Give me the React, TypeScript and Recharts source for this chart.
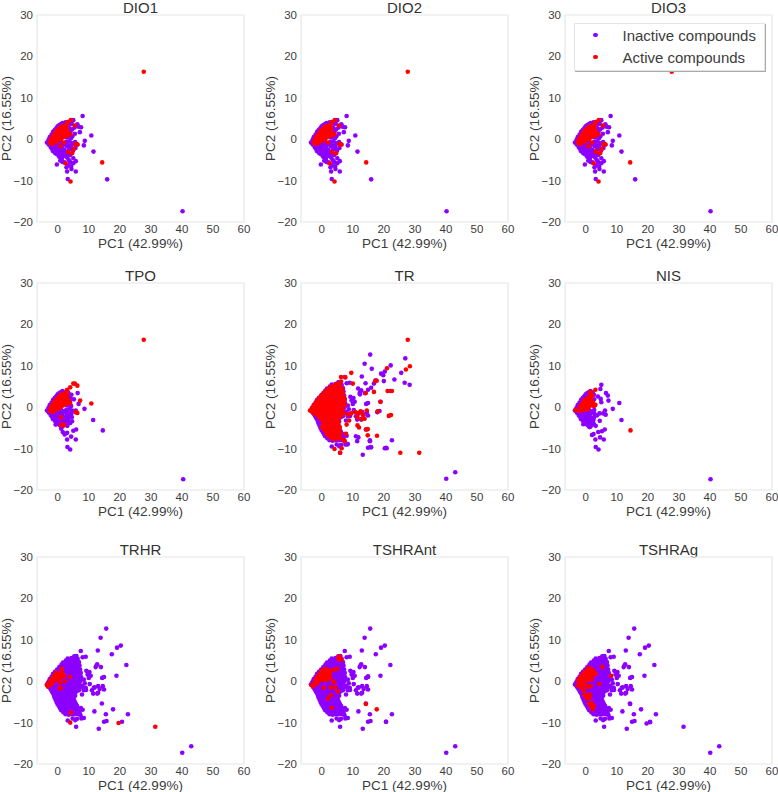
import { Legend, ReferenceArea, Scatter, ScatterChart, XAxis, YAxis } from "recharts";

type Pt = [number, number];

const xTicks = [0, 10, 20, 30, 40, 50, 60];
const yTicks = [-20, -10, 0, 10, 20, 30];
const xDomain: [number, number] = [-6.7, 60];
const yDomain: [number, number] = [-20, 30];

const PURPLE = "#8c00ff";
const RED = "#ff0000";
const INK = "#3c3c3c";

// compounds tested in the DIO / TPO / NIS assays, inner blob
const narrowCore: Pt[] = [
  [-3.5, -0.8], [-3, -0.2], [-2.9, -1.3], [-2.6, 0.5], [-2.4, -0.6], [-2.3, -1.9], [-2, 1.1], [-1.9, 0.1],
  [-1.8, -1.1], [-1.7, -2.5], [-1.5, 1.8], [-1.3, 0.7], [-1.2, -0.4], [-1.1, -1.8], [-1, -3], [-0.9, 2.3],
  [-0.7, 1.3], [-0.6, 0], [-0.5, -1], [-0.4, -2.4], [-0.3, -3.6], [-0.2, 2.8], [0, 1.7], [0.1, 0.5],
  [0.2, -1.4], [0.3, -2.9], [0.4, -4.2], [0.5, 3.4], [0.7, 2.2], [0.9, 1], [1, -0.6], [1.1, -2],
  [1.2, -3.4], [1.3, -4.8], [1.5, 3.9], [1.6, 2.7], [1.8, 1.4], [1.9, -1], [2, -2.5], [2.1, -3.9],
  [2.6, 3], [2.7, 1.9], [2.8, 0.4], [2.9, -1.7], [3, -3.1], [3.1, -4.5], [3.6, 2.8], [3.7, 1.2],
  [3.8, -0.5], [3.9, -2.2], [4, -3.8], [-0.8, -0.2], [0.6, -1], [1.5, -1.5], [2.4, -1.2], [-1.5, -1],
];

const narrowFill: Pt[] = [
  [-3, -0.9], [-2.5, -0.1], [-2.5, -1.4], [-2, 0.6], [-2, -0.5], [-2, -2.2], [-1.5, 1.2], [-1.5, -1.8], [-1.5, -2.9],
  [-1, -2.2], [-0.8, -3.4], [-0.7, -1.4], [0, -2.2], [0, -3.3], [0.2, -0.6], [0.7, -3.5], [0.8, -2.4], [0.9, -4.5],
  [1.5, -2.9], [1.6, -4.2], [2.4, -3.2], [2.6, -4.1], [2.7, -0.7], [3.4, -1.5], [3.4, -2.7], [3.5, 0.4], [3.6, -3.6],
  [3.3, 3.6], [4.2, 2], [4.3, 0.3], [4.4, -1.5], [4.5, -2.4], [2.2, 3.6], [1, 3.6], [0, 3.1], [-0.5, 2.6], [-1.2, 1.9],
];

const dioLower: Pt[] = [
  [-0.3, -6.1], [2.2, -5.6], [3.2, -6.2], [4.1, -5.6], [4.3, -6.6], [2.5, 4.1], [3.5, 4.2], [4.5, 3.7],
  [4.6, 2.4], [4.7, 0.7], [4.8, -1], [4.9, -2.8], [5, -5.8], [5.4, 2.8], [5.5, 1.3], [5.6, -0.7],
  [5.7, -2.1], [5.8, -5.3], [6, -1.2], [1.5, -5.5], [0.8, -5.2], [2.8, -6.8], [3.6, -5.1], [5, -4.6],
];

const dioOutliers: Pt[] = [
  [8, 5.6], [10.8, 0.9], [8.7, -0.4], [8.4, -1.5], [11.5, -3], [15.9, -9.7], [40.2, -17.4], [3.2, -9.6],
  [3, -7.8], [5.8, -7.8], [4.4, -7.2], [6.7, 3], [7.5, 2.9], [7.1, 1.7], [6.3, 3.6], [5, 4.6],
];

const tpoInactive: Pt[] = [
  [6.4, 3.4], [6.7, 0.8], [8.6, -0.4], [11.4, -3.1], [14.5, -5.6], [40.4, -17.4], [3.1, -9.6], [4, -10.2],
  [3, -7.8], [5.8, -7.8], [4.3, -7.1], [5.9, -5.4], [5, -5.7], [4.6, -3.4], [-0.7, -4.2], [2.2, -6.6],
  [1.6, -6], [3, -6.2], [1.1, -5.2], [5.8, -0.8], [4.6, -0.8], [3.4, -2.2], [2.6, -2.4], [3.8, -2.1],
  [1.4, -2.3], [4, 1.8], [5.2, 1.9], [4.4, 3], [3.6, 3.2], [3.1, 2.3],
];

const nisInactive: Pt[] = [
  [5, 5.4], [4.7, 4.4], [6.5, 3.4], [7.1, 2.8], [7.3, 1.6], [10.8, 1], [8.7, -0.4], [11.5, -3.1],
  [40.2, -17.4], [3.2, -9.6], [4.1, -10.2], [3.1, -7.8], [5.8, -7.8], [4.6, -7.3], [6.1, -5.4], [5.2, -5.8],
  [4, -6], [2.5, -6.5], [2, -6.7], [-0.8, -4.1], [4.8, 2], [5, 1.2], [3.9, 2.6], [4.4, -1.5], [4.5, -3.3],
  [6.2, -0.8], [6.4, -1.8], [5.6, -1.5], [3.6, -2], [2.6, -2.6], [3.2, -4.5], [1.2, -4.8], [1.8, -4.4],
];

// wider blob seen in the TR / TRHR / TSHR assays
const wideCore: Pt[] = [
  [5.3, 6], [6, 6.1], [2.6, 5], [3.8, 5.1], [5, 5], [6.2, 4.9], [6.8, 4.6], [1.2, 4], [2.2, 4], [3.2, 4.2], [4.2, 4],
  [5.2, 3.9], [6.3, 4.1], [7, 3.8], [0.3, 3], [1.4, 3.1], [2.4, 3], [3.4, 3], [4.4, 3.1], [5.4, 3], [6.5, 3], [7.2, 2.8],
  [-0.8, 2], [0.2, 2.1], [1.3, 2], [2.3, 1.9], [3.3, 2], [4.3, 2.1], [5.3, 2], [6.4, 1.9], [7.4, 2], [-1.7, 1], [-0.7, 1.1],
  [0.3, 1], [1.3, 0.9], [2.3, 1], [3.3, 1], [4.3, 1.1], [5.4, 1], [6.4, 0.9], [7.5, 1], [-2.7, 0], [-1.7, 0.1], [-0.6, 0],
  [0.4, -0.1], [1.4, 0], [2.5, 0], [3.5, 0.1], [4.5, 0], [5.5, -0.1], [6.6, 0], [7.4, 0.1], [-3, -1], [-2, -0.9], [-1, -1],
  [0, -1.1], [1, -1], [2, -1], [3, -0.9], [4, -1], [5, -1], [6, -1.1], [7, -1], [8, -1.2], [-2.2, -2], [-1.2, -2.1], [-0.2, -2],
  [0.8, -2], [1.8, -1.9], [2.8, -2], [3.8, -2.1], [4.8, -2], [5.8, -2], [6.8, -2.2], [-1.5, -3], [-0.5, -3.1], [0.5, -3], [1.5, -3],
  [2.5, -2.9], [3.5, -3], [4.5, -3.1], [5.5, -3], [-1, -4], [0, -4.1], [1, -4], [2, -4], [3, -3.9], [4, -4], [5, -4.1],
  [-0.4, -5], [0.6, -5], [1.6, -5.1], [2.6, -5], [3.6, -5], [4.6, -4.9], [5.6, -5.2], [0.3, -6], [1.3, -6.1], [2.3, -6], [3.3, -6],
  [4.3, -5.9], [5.3, -6.1], [6.2, -6], [1.1, -7], [2.1, -7.1], [3.1, -7], [4.1, -7], [5.1, -7.1], [6.1, -7], [7, -7.1], [8, -6.9],
  [2.5, -8], [3.5, -8.1], [4.5, -8], [5.5, -8], [6.5, -7.9], [7.3, -8.2], [3.2, -9.5], [4.8, -9], [6.2, -9.1], [7.6, -9], [8.4, -8.9],
];

const wideFill: Pt[] = [
  [3.2, 5.5], [4.4, 5.6], [5.6, 5.5], [6.4, 5.4], [1.7, 4.5], [2.7, 4.6], [3.7, 4.5], [4.7, 4.4], [5.7, 4.5], [6.6, 4.4],
  [0.8, 3.5], [1.9, 3.6], [2.9, 3.5], [3.9, 3.5], [4.9, 3.4], [5.9, 3.5], [6.8, 3.4], [-0.3, 2.5], [0.8, 2.6], [1.8, 2.5],
  [2.8, 2.4], [3.8, 2.5], [4.8, 2.6], [5.8, 2.5], [6.9, 2.4], [-1.2, 1.5], [-0.2, 1.6], [0.8, 1.5], [1.8, 1.4], [2.8, 1.5],
  [3.8, 1.5], [4.8, 1.6], [5.9, 1.5], [6.9, 1.4], [-2.2, 0.5], [-1.2, 0.6], [-0.2, 0.5], [0.8, 0.4], [1.8, 0.5], [2.8, 0.5],
  [3.8, 0.6], [4.8, 0.5], [5.9, 0.4], [7, 0.5], [-3.2, -0.5], [-2.2, -0.4], [-1.1, -0.5], [-0.1, -0.6], [0.9, -0.5], [1.9, -0.5],
  [2.9, -0.4], [3.9, -0.5], [4.9, -0.6], [6, -0.5], [7, -0.4], [-2.6, -1.5], [-1.6, -1.4], [-0.6, -1.5], [0.4, -1.6], [1.4, -1.5],
  [2.4, -1.5], [3.4, -1.4], [4.4, -1.5], [5.4, -1.6], [6.4, -1.5], [7.4, -1.5], [-1.9, -2.5], [-0.9, -2.6], [0.1, -2.5], [1.1, -2.4],
  [2.1, -2.5], [3.1, -2.5], [4.1, -2.6], [5.1, -2.5], [6.1, -2.4], [-1.2, -3.5], [-0.2, -3.6], [0.8, -3.5], [1.8, -3.4], [2.8, -3.5],
  [3.8, -3.5], [4.8, -3.6], [5.6, -3.5], [-0.7, -4.5], [0.3, -4.6], [1.3, -4.5], [2.3, -4.4], [3.3, -4.5], [4.3, -4.5], [5.3, -4.6],
  [-0.1, -5.5], [0.9, -5.6], [1.9, -5.5], [2.9, -5.4], [3.9, -5.5], [4.9, -5.5], [5.9, -5.6], [0.7, -6.5], [1.7, -6.6], [2.7, -6.5],
  [3.7, -6.4], [4.7, -6.5], [5.7, -6.5], [6.6, -6.6], [7.4, -6.5], [1.8, -7.5], [3, -7.6], [4, -7.5], [5, -7.4], [6, -7.5], [7, -7.6],
];

const wideOutliers: Pt[] = [
  [15.6, 12.7], [13.8, 10.5], [20.3, 8.6], [19.1, 8.1], [17.4, 6.5], [12.9, 7.4], [7.4, 7.3], [8, 5.8], [9, 5.9],
  [22.1, 3.9], [18.9, 1.3], [13.9, 3.4], [12.7, 4.1], [12.2, 3.4], [12.5, 3.8], [14.9, 1], [14.3, 0.8], [9.2, 2.5],
  [10.2, 2.2], [10.6, 1.3], [10, 0.8], [9.6, 1.6], [8.7, -0.5], [8.4, 0.4], [9, -1.6], [14.2, -5.4], [11.8, -7.3],
  [15.5, -8], [22.6, -8], [20.7, -9.8], [15.7, -9.6], [14.9, -9.8], [13.2, -11.5], [5.9, -11], [40.1, -17.3], [43, -15.7],
  [14.9, -2], [13.5, -1.9], [12.7, -3], [11.4, -3], [11, -2.2], [9.1, -2.1], [8.4, -2.2], [11.9, -1.5], [13, -2.8],
  [11.6, -1.6], [13, -1.2], [14.5, -1.2], [10.3, -0.7], [7.8, -3.2], [5.6, -9.4],
];

const trExtraInactive: Pt[] = [
  [22.2, 10.1], [26.9, 11.8], [25.6, 8.3], [28.3, 5.4], [26.7, 5.9], [23.4, 6.7], [19.8, 7.7], [20, 6.3], [16.1, 9.3],
  [16.8, 5.7], [15.9, 4.7], [14.9, 4.2], [14.1, 5.8], [11.7, 4.5], [12.3, 3.1], [17.9, -1.2], [18.6, -0.9], [15.5, -8.2],
  [11, -7], [11.4, -8.2], [15.9, -9.7], [20.3, -9.9], [20.9, -9.9], [8.2, -9],
];

const dioRedCore: Pt[] = [
  [-2.6, -0.9], [-2.3, -0.2], [-2, -1], [-1.8, 0.5], [-1.5, -0.4], [-1.4, -1.1], [-1.2, 1.1], [-1, 0.2], [-0.8, -0.6],
  [-0.6, 1.7], [-0.5, 0.8], [-0.3, -0.3], [-0.1, 2.2], [0, 1.3], [0.2, 0.3], [0.2, -0.4], [0.5, 2.6], [0.6, 1.6], [0.8, 0.7],
  [1, 0], [1, 3], [1.2, 2.1], [1.4, 1.2], [1.6, 0.4], [1.7, 3.2], [1.9, 2.4], [2.1, 1.5], [2.3, 0.7], [2.5, 3.3], [2.7, 2.2],
  [3, 1.1], [3.3, 0.9], [0, 0.6], [-1.8, -0.5], [0.9, 1.5],
];

const dioRedFill: Pt[] = [
  [-2, -0.2], [-1.5, 0.4], [-1, 0.8], [-1, -0.5], [-0.5, 1.3], [-0.5, 0.2], [0, 1.9], [0, 0.2], [0.5, 2.1], [0.5, 1], [0.6, 0.1],
  [1, 2.6], [1, 1.1], [1.4, 2.8], [1.5, 1.8], [1.9, 0.9], [2, 3], [2.3, 1.9], [2.7, 1.3], [2.2, 2.8], [3, 2.5], [3.5, 1.4], [2.9, 3.6],
];

const dio1Active: Pt[] = [
  [4.2, 4.6], [3.1, 4.1], [5.5, 3.3], [4.1, 1.2], [2, -0.8], [0.9, -1.7], [3.3, -3.1], [4.6, -3.4], [5.1, -2.4],
  [5.7, -1.2], [6.4, -1.3], [2.5, -5.8], [14.3, -5.6], [4.1, -10.2], [27.7, 16.3],
];

const dio2Active: Pt[] = [
  [4.2, 4.6], [3.1, 4.1], [5.5, 3.3], [4.1, 1.2], [2, -0.8], [3.3, -3.1], [4.6, -3.4], [5.7, -1.2], [6.4, -1.3],
  [14.3, -5.6], [4.1, -10.2], [2.5, -5.8], [27.7, 16.3],
];

const dio3Active: Pt[] = [
  [4.2, 4.6], [3.1, 4.1], [5.5, 3.3], [4.1, 1.2], [2, -0.8], [0.9, -1.7], [3.3, -3.1], [4.6, -3.4], [5.1, -2.4],
  [5.7, -1.2], [6.4, -1.3], [2.5, -5.8], [14.3, -5.6], [4.1, -10.2], [27.7, 16.3], [3.2, -2.9],
];

const tpoActive: Pt[] = [
  [5.5, 5.7], [5, 5.7], [6.3, 5.2], [4, 4.8], [3, 4.2], [7.2, 1.6], [10.8, 0.9], [5.8, -1.2], [6.3, -1.4], [1.5, -4.2],
  [1, -4.3], [2, -4.4], [1, -2.4], [27.7, 16.3], [4, 1], [3.6, 1.6], [3, 2.8],
];

const nisRedCore: Pt[] = [
  [-3.3, -0.6], [-2.2, -0.9], [-1.9, 0.2], [-1.4, -0.8], [-1.2, 0.9], [-0.9, -0.2], [-0.6, 1.6], [-0.4, 0.5], [-0.2, -0.6],
  [0.1, 1.3], [0.4, 2.2], [0.5, 0.2], [0.7, -0.5], [1, 1.1], [1.2, 2.6], [1.4, 3.5], [1.6, 3.7], [1.7, 1.9], [1.9, 0.5],
  [2.1, 2.8], [2.3, 1.2], [3.1, 4.2], [3.1, 0.6], [2.6, 0.3], [14.4, -5.6], [-1.6, 0.1], [-0.9, 0.7], [-0.2, 1], [0.5, 1.5],
  [1, 2], [1.6, 2.7], [1.2, 0.3], [2, 1.2], [-0.3, -0.1],
];

const trRedBlob: Pt[] = [
  [-3.8, -0.8], [-3.2, -0.2], [-3, -1.2], [-2.5, 0.6], [-2.3, -0.5], [-2, -1.7], [-1.7, 1.4], [-1.5, 0.2], [-1.3, -1], [-1, -2.4],
  [-0.9, 2.2], [-0.6, 1], [-0.4, -0.2], [-0.2, -1.5], [0, -3], [0, 3], [0.3, 1.8], [0.5, 0.5], [0.7, -0.9], [0.9, -2.2], [1, -4],
  [1, 3.8], [1.3, 2.6], [1.5, 1.3], [1.7, 0], [1.9, -1.4], [2, -3], [2, -5], [2, 4.4], [2.3, 3.3], [2.5, 2], [2.7, 0.7], [2.9, -0.7],
  [3, -2.2], [3, -3.9], [3, -5.8], [3, 5], [3.3, 3.9], [3.5, 2.7], [3.7, 1.3], [3.8, 0], [4, -1.4], [4, -3], [4, -4.8], [4, -6.6],
  [4.1, 5.1], [4.3, 4], [4.5, 2.8], [4.7, 1.5], [4.9, 0.2], [5, -1], [5, -2.4], [5, -3.9], [5, -5.6], [5, -7.4], [5.2, 5.6], [5.5, 4.2],
  [5.6, 3], [5.8, 1.8], [6, 0.5], [6, -0.8], [6, -2.2], [6, -6.2], [5.8, -4.8], [6.2, 6.2], [6.5, 3.4], [6.8, 2.2], [7, 0.9], [7, -1.4],
  [6.7, -7.8], [7.4, 1.8], [0, -4.8], [0.8, -5.5], [1.6, -6.2], [2.6, -7], [3.6, -7.6], [4.4, -7.7],
];

const trRedFill: Pt[] = [
  [4.5, 5.5], [5.8, 5.5], [2.5, 4.5], [3.6, 4.5], [4.8, 4.5], [5.9, 4.5], [6.6, 4.5], [1.5, 3.5], [2.6, 3.5], [3.8, 3.5], [4.9, 3.5],
  [6, 3.5], [6.8, 3.5], [0.4, 2.5], [0.9, 2.5], [1.9, 2.5], [2.9, 2.5], [4, 2.5], [5.2, 2.5], [6.2, 2.5], [7, 2.5], [-0.5, 1.5],
  [0.7, 1.5], [2, 1.5], [3.1, 1.5], [4.1, 1.5], [5.2, 1.5], [6.4, 1.5], [-1.9, 0.5], [-0.9, 0.5], [0.1, 0.5], [1.1, 0.5], [2.2, 0.5],
  [3.3, 0.5], [4.4, 0.5], [5.5, 0.5], [6.5, 0.5], [7.4, 0.5], [-2.8, -0.5], [-1.7, -0.5], [-0.7, -0.5], [0.3, -0.5], [1.3, -0.5],
  [2.4, -0.5], [3.4, -0.5], [4.5, -0.5], [5.5, -0.5], [6.6, -0.5], [-1.7, -1.5], [-0.6, -1.5], [0.4, -1.5], [1.5, -1.5], [2.5, -1.5],
  [3.5, -1.5], [4.5, -1.5], [5.5, -1.5], [6.5, -1.5], [-0.5, -2.5], [0.5, -2.5], [1.5, -2.5], [2.5, -2.5], [3.5, -2.5], [4.5, -2.5],
  [5.5, -2.5], [0.4, -3.5], [1.5, -3.5], [2.5, -3.5], [3.5, -3.5], [4.5, -3.5], [5.4, -3.5], [0.5, -4.5], [1.5, -4.5], [2.5, -4.5],
  [3.5, -4.5], [4.5, -4.5], [5.5, -4.5], [1.2, -5.5], [2.3, -5.5], [3.5, -5.5], [4.4, -5.5], [5.6, -5.5], [1.5, -6.5], [2.2, -6.5],
  [3.3, -6.5], [4.6, -6.5], [5.7, -6.5], [3, -7.5], [4, -7.5], [5.8, -7.5],
];

const trActive: Pt[] = [
  [27.7, 16.3], [28.4, 9.9], [27.1, 9.1], [21, 9.4], [17.7, 6.4], [17.2, 6.3], [16.8, 3.7], [21.2, 3.9], [22.6, 3.9], [14.2, 3.4],
  [9.5, 8.3], [10, 5.7], [18.9, 1.3], [21.6, -2.1], [22.3, -1.9], [14.5, -0.8], [17.8, -6.9], [14.3, -5.4], [14.8, -5.3], [14.8, -6.8],
  [25.3, -11], [31.4, -11], [5.9, -11], [4.1, -10.1], [6.4, -9.9], [6.2, 7.3], [7.6, 7.2], [18, -1], [10.8, -1.2], [11.8, -1.4],
  [12.5, -1], [13.2, -1.8], [11.5, -2.4], [12.8, -2.9], [13.8, -2.8], [11.5, -4.4], [12, -4.9], [9.5, -1.5], [8.4, -1.8], [8.8, -3.2],
  [8, -4.2], [7.8, -6.4], [7.4, -8.2],
];

const trhrActive: Pt[] = [
  [-3.5, -0.9], [-3.2, -1.3], [-2.9, -0.5], [-2.6, -1], [-2.4, -0.2], [-2.1, 0.4], [-1.9, -0.6], [-1.6, 0.8], [-1.4, -0.1], [-1, 1.4],
  [-0.8, 0.5], [-0.5, 2], [-0.2, 1.1], [0.1, 1.9], [0.5, 1.3], [0.9, 0.8], [1.3, 3], [1.4, 2.1], [2.1, 1.3], [2.3, 0], [4, 1], [0.6, -1.7],
  [0.9, -1.7], [0.8, -0.4], [4.2, -7.6], [4, -10], [19.6, -10.1], [31.4, -11], [-1.2, 0.6], [-0.5, 0.9], [0, 0.4], [-2, 0.1], [1, 1.6],
];

const tshrantActive: Pt[] = [
  [-3.3, -0.9], [-2.8, -1.3], [-2.3, -0.3], [-1.9, 0.6], [-1.5, -0.6], [-1.2, 1.3], [-0.8, 0.2], [-0.5, 2], [-0.3, 1], [0.1, 0.2],
  [0.3, 2.7], [0.6, 1.6], [0.9, 0.6], [1.2, 3], [1.5, 1.9], [1.8, 0.9], [2.3, 2.6], [2.6, 1.5], [3.9, 2.8], [4, -0.2], [2.8, -1.5], [0.6, -1.6],
  [4.3, -1.5], [5, 3], [5.1, -2.5], [5.3, 5.4], [5.6, 6], [6.3, 5.2], [3, -3.4], [2, -4.2], [3.2, -6.4], [14.2, -5.5], [17.7, -6.8],
  [-1.4, 0.4], [-0.8, 1], [-0.2, 1.7], [0.4, 0.9], [0.8, 2.2], [1.2, 1.2], [1.9, 2.1], [2.2, 1.2], [-0.2, 0.5], [1.6, 0.3], [2.8, 2.4], [2.9, 0.6],
];

const tshragActive: Pt[] = [
  [-2.6, -1], [-2.4, 0.2], [-2, -0.6], [-1.8, 0.9], [-1.5, -1.4], [-1.3, 0], [-1, 1.6], [-0.7, 0.5], [-0.4, -0.8], [-0.2, 2.2], [0.2, 1.1], [0.5, 2.8],
  [0.8, 1.7], [1, 0.4], [1.2, 3], [1.6, 2.2], [2, 1.4], [2.5, 2.5], [3.2, 1.8], [-1.4, -1.6], [-0.6, -2.2], [0.1, -1], [0.8, -1.4], [1.6, -1.2],
  [-0.5, -3.2], [0, -3.6], [0.6, -3.4], [0.4, -4.2], [1.2, -4], [1.4, -3.2], [1.1, -5.4], [1.6, -5.8], [2, -6.4], [2.2, -6.8], [1.9, -5.3], [2.6, -6],
  [4.3, -0.6], [5.3, 3.4], [8.2, 1.3], [-1.8, -0.2], [-1, 0.7], [-0.3, 1.4], [0.3, 0.3], [0.9, 2.3], [1.5, 1.3], [2.2, 2.1], [1.9, 0.4], [-0.9, -0.6],
  [0.7, 3.1], [1.7, 3], [2.6, 1.6],
];

const tshragExtra: Pt[] = [[31.5, -11], [20.7, -9.9], [19.6, -10.2], [17.8, -6.8], [14.3, -5.5]];
const tshrantExtra: Pt[] = [[20.7, -9.8], [14.9, 1.2]];
const trhrExtra: Pt[] = [[17.8, -6.8]];

const dioInactive = [...narrowCore, ...narrowFill, ...dioLower, ...dioOutliers];
const dioRed = [...dioRedCore, ...dioRedFill];
const wideInactive = [...narrowCore, ...wideCore, ...wideFill, ...wideOutliers];

const panels = [
  { title: "DIO1", inactive: dioInactive, active: [...dioRed, ...dio1Active] },
  { title: "DIO2", inactive: dioInactive, active: [...dioRed, ...dio2Active] },
  { title: "DIO3", inactive: dioInactive, active: [...dioRed, ...dio3Active] },
  { title: "TPO", inactive: [...narrowCore, ...narrowFill, ...tpoInactive], active: [...dioRed, ...tpoActive] },
  { title: "TR", inactive: [...wideInactive, ...trExtraInactive], active: [...trRedBlob, ...trRedFill, ...trActive] },
  { title: "NIS", inactive: [...narrowCore.filter(([x]) => x < 3), ...narrowFill.filter(([x]) => x < 3), ...nisInactive], active: nisRedCore },
  { title: "TRHR", inactive: [...wideInactive, ...trhrExtra], active: trhrActive },
  { title: "TSHRAnt", inactive: [...wideInactive, ...tshrantExtra], active: tshrantActive },
  { title: "TSHRAg", inactive: [...wideInactive, ...tshragExtra], active: tshragActive },
];

const chartLefts = [0, 264, 528];
const chartTops = [0, 268, 542];

const toPoints = (pts: Pt[]) => pts.map(([x, y]) => ({ x, y }));
const withMinus = (v: number) => String(v).replace("-", "\u2212");

const Dot = ({ cx, cy, fill }: any) => <circle cx={cx} cy={cy} r={2.3} fill={fill} />;

function LegendBox({ payload }: any) {
  return (
    <div
      style={{
        height: "100%",
        boxSizing: "border-box",
        background: "#fff",
        border: "1px solid #e4e4e4",
        boxShadow: "1px 1px 0 #aaa",
        fontSize: 15,
        color: INK,
      }}
    >
      {(payload ?? []).map((entry: any) => (
        <div key={entry.value} style={{ display: "flex", alignItems: "center", height: 22 }}>
          <span
            style={{
              width: 4.5,
              height: 4.5,
              borderRadius: "50%",
              background: entry.color,
              marginLeft: 18,
              marginRight: 25,
            }}
          />
          <span>{entry.value}</span>
        </div>
      ))}
    </div>
  );
}

function Panel({ title, inactive, active, left, top }: any) {
  return (
    <div style={{ position: "absolute", left, top }}>
      <ScatterChart width={252} height={251} margin={{ top: 15, right: 8, left: 0, bottom: 0 }}>
        <XAxis
          type="number"
          dataKey="x"
          domain={xDomain}
          ticks={xTicks}
          interval={0}
          height={29}
          axisLine={false}
          tickLine={false}
          tickSize={0}
          tickMargin={3}
          tick={{ fill: INK, fontSize: 11.5 }}
          label={{ value: "PC1 (42.99%)", position: "insideBottom", offset: 3, fill: INK, fontSize: 13.5 }}
        />
        <YAxis
          type="number"
          dataKey="y"
          domain={yDomain}
          ticks={yTicks}
          interval={0}
          width={37}
          axisLine={false}
          tickLine={false}
          tickSize={0}
          tickMargin={4}
          tickFormatter={withMinus}
          tick={{ fill: INK, fontSize: 11.5 }}
          label={{ value: "PC2 (16.55%)", angle: -90, position: "insideLeft", offset: 0, dx: 6.5, fill: INK, fontSize: 13.5, style: { textAnchor: "middle" } }}
        />
        <ReferenceArea x1={xDomain[0]} x2={xDomain[1]} y1={yDomain[0]} y2={yDomain[1]} fill="#fff" stroke="#e6e6e6" strokeWidth={1.2} />
        <Scatter name="Inactive compounds" data={toPoints(inactive)} fill={PURPLE} shape={Dot} isAnimationActive={false} />
        <Scatter name="Active compounds" data={toPoints(active)} fill={RED} shape={Dot} isAnimationActive={false} />
        {title === "DIO3" && (
          <Legend
            layout="horizontal"
            align="center"
            verticalAlign="middle"
            itemSorter={null}
            content={LegendBox}
            wrapperStyle={{ left: 46, top: 23, width: 191, height: 48 }}
          />
        )}
        <text x={140.5} y={12.5} textAnchor="middle" fill="#333" fontSize={15}>
          {title}
        </text>
      </ScatterChart>
    </div>
  );
}

export default function App() {
  return (
    <div
      style={{
        position: "absolute",
        left: 0,
        top: 0,
        width: 778,
        height: 792,
        overflow: "hidden",
        background: "#fff",
        fontFamily: "'Liberation Sans', Arial, sans-serif",
      }}
    >
      {panels.map((p, i) => (
        <Panel key={p.title} {...p} left={chartLefts[i % 3]} top={chartTops[Math.floor(i / 3)]} />
      ))}
    </div>
  );
}
